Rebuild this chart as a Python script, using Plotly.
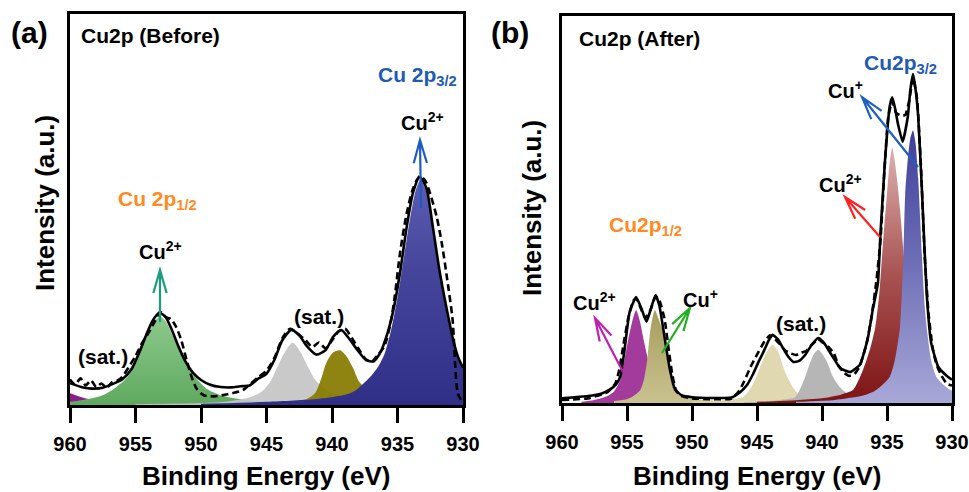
import math
import plotly.graph_objects as go

# ---------------- data ----------------
# Panel (a): Cu2p before. Energies in eV, intensities in a.u. (0-100 frame scale)
a_env_E = [960, 959, 958.3, 957.5, 956.8, 956, 955.3, 954.7, 954.2, 953.7, 953.2, 952.7, 952.2, 951.7,
           951.2, 950.6, 950, 949.3, 948.5, 947.7, 947, 946.3, 945.6, 945, 944.4, 943.8, 943.1, 942.5,
           941.9, 941.2, 940.5, 939.9, 939.3, 938.7, 938, 937.4, 936.8, 936.3, 935.8, 935.3, 934.8,
           934.3, 933.8, 933.3, 932.8, 932.3, 931.8, 931.3, 930.8, 930.4, 930]
a_env_I = [5.6, 4.5, 4.2, 4.4, 5.3, 6.6, 9.2, 13.5, 17.8, 21.5, 23.6, 22.5, 19.0, 14.8,
           11.2, 8.2, 6.4, 5.2, 4.6, 4.5, 4.8, 5.0, 6.8, 8.0, 11.5, 16.5, 19.2, 17.8,
           15.0, 12.9, 14.0, 17.5, 19.2, 17.0, 13.8, 11.5, 11.2, 13.5, 18.0, 24.5, 34.0,
           45.5, 54.5, 58.3, 55.5, 45.5, 34.5, 25.5, 17.4, 12.5, 9.5]

a_raw_E = [960, 959.6, 959.2, 958.8, 958.4, 958, 957.6, 957.2, 956.8, 956.4, 956, 955.5, 955, 954.5,
           954, 953.5, 953.1, 952.7, 952.3, 951.9, 951.5, 951.1, 950.7, 950.3, 949.8, 949, 948.2,
           947.4, 946.8, 946.2, 945.6, 945, 944.4, 943.8, 943.2, 942.6, 942, 941.5, 941, 940.5, 940,
           939.5, 939, 938.5, 938, 937.5, 937, 936.5, 936, 935.5, 935.2, 934.8, 934.3, 933.8, 933.3,
           932.9, 932.5, 932, 931.6, 931.2, 930.8, 930.4, 930.1]
a_raw_I = [6.5, 5.2, 6.8, 5.0, 6.3, 4.6, 5.5, 4.4, 5.8, 6.2, 7.2, 9.8, 12.5, 15.8,
           18.5, 21.5, 23.8, 22.5, 22.0, 20.0, 16.5, 11.5, 7.0, 4.0, 2.5, 2.2, 2.6,
           3.2, 3.8, 5.5, 7.2, 8.8, 12.0, 17.0, 19.5, 18.2, 16.5, 14.8, 16.0, 14.5, 16.5,
           18.8, 19.5, 17.2, 14.5, 12.0, 11.0, 12.8, 15.0, 21.5, 28.0, 39.0, 49.0, 55.5, 58.5,
           57.5, 54.0, 48.0, 41.0, 32.0, 22.0, 3.0, 1.0]

a_purple_E = [960, 959.3, 958.5, 957.5, 956.5, 955.5, 953, 950, 945, 940, 930]
a_purple_I = [3.0, 2.2, 1.5, 1.0, 0.7, 0.5, 0.35, 0.25, 0.15, 0.1, 0.05]

a_green_E = [960, 958.5, 957.5, 956.5, 955.6, 955, 954.5, 954, 953.5, 953.1, 952.7, 952.2, 951.6,
             951, 950.4, 949.5, 948.5, 947, 945, 940, 935, 930]
a_green_I = [0.8, 1.6, 2.5, 4.5, 7.2, 11.5, 16.0, 19.5, 21.8, 22.6, 21.5, 18.0, 13.5,
             10.0, 7.0, 4.0, 2.5, 1.5, 0.8, 0.35, 0.2, 0.1]

a_gray_E = [955, 950, 948, 947, 946, 945.3, 944.7, 944.2, 943.6, 943.0, 942.4, 941.8, 941.3, 940.5,
            939.5, 938, 936, 933, 930]
a_gray_I = [0.2, 0.5, 0.9, 1.4, 2.3, 3.6, 6.0, 9.5, 13.5, 15.9, 13.5, 9.5, 6.5, 4.0,
            2.5, 1.4, 0.7, 0.3, 0.2]

a_olive_E = [948, 945, 943, 942, 941.3, 940.9, 940.4, 939.9, 939.4, 938.9, 938.4, 937.9, 937.2,
             936.5, 935.5, 934, 932, 930]
a_olive_I = [0.2, 0.4, 0.8, 1.4, 3.0, 6.0, 11.0, 13.5, 14.0, 12.5, 9.5, 5.8, 4.0,
             2.8, 1.8, 1.0, 0.6, 0.4]

a_blue_E = [950, 945, 941, 939, 938.3, 937.6, 937, 936.5, 936, 935.5, 935, 934.5, 934, 933.6,
            933.25, 932.9, 932.5, 932, 931.5, 931, 930.5, 930]
a_blue_I = [0.3, 0.8, 1.6, 2.6, 3.5, 5.5, 7.5, 9.7, 13.0, 19.0, 27.5, 38.0, 48.5, 55.0,
            57.5, 55.5, 49.5, 39.5, 28.0, 19.5, 13.5, 9.5]

# Panel (b): Cu2p after
b_env_E = [960, 958, 957, 956.3, 955.8, 955.5, 955.2, 954.8, 954.3, 953.9, 953.5, 953.15, 952.8,
           952.5, 952.2, 951.7, 951.3, 950.8, 950, 948.5, 947, 946.3, 945.8, 945.3, 944.9, 944.5,
           944.1, 943.8, 943.4, 943, 942.6, 942.2, 941.8, 941.3, 940.8, 940.3, 939.9, 939.5, 939,
           938.6, 937.85, 937.1, 936.5, 936.1, 935.7, 935.5, 935.15, 934.8, 934.6, 934.4, 934.15,
           933.8, 933.4, 933.2, 933.0, 932.8, 932.6, 932.3, 931.95, 931.6, 931.05, 930.3, 930]
b_env_I = [1.2, 1.8, 2.4, 3.5, 5.0, 7.0, 13.5, 23.5, 27.4, 24.5, 21.0, 24.5, 27.9,
           25.0, 18.9, 8.5, 3.5, 2.0, 1.5, 1.3, 1.4, 2.8, 4.5, 7.5, 10.5, 13.2,
           16.2, 17.6, 16.5, 14.2, 12.0, 10.6, 10.8, 12.4, 15.0, 16.8, 15.8, 13.7, 11.0,
           9.0, 8.0, 9.8, 16.3, 24.0, 31.0, 44.0, 62.8, 76.5, 79.0, 76.5, 72.0,
           67.5, 74.0, 81.0, 85.0, 81.0, 74.0, 54.0, 28.4, 15.5, 9.3, 6.7, 6.0]

b_raw_E = [960, 958, 956.5, 955.9, 955.6, 955.3, 954.9, 954.5, 954.3, 954.0, 953.6, 953.2, 952.8,
           952.5, 952.1, 951.8, 951.5, 951.2, 950.8, 950, 948.5, 947, 946.4, 946, 945.5, 945,
           944.5, 944, 943.6, 943.2, 942.8, 942.4, 942, 941.6, 941.2, 940.8, 940.3, 939.9, 939.5,
           939.1, 938.7, 938.3, 937.9, 937.5, 937.1, 936.6, 936.2, 935.8, 935.5, 935.2, 934.9,
           934.6, 934.3, 934.0, 933.6, 933.3, 933.0, 932.7, 932.4, 932.1, 931.8, 931.5, 931.2,
           930.8, 930.4, 930]
b_raw_I = [0.8, 1.2, 2.8, 5.0, 8.5, 14.5, 22.0, 26.5, 27.0, 25.0, 22.0, 24.0, 27.5,
           26.5, 21.5, 14.0, 7.0, 3.0, 1.8, 1.2, 1.0, 1.1, 3.0, 5.5, 9.3, 12.5,
           15.5, 17.5, 16.5, 15.0, 13.5, 12.8, 12.4, 13.0, 13.5, 15.0, 16.5, 15.5, 14.5,
           12.9, 9.5, 7.8, 7.0, 7.5, 9.5, 15.0, 22.0, 32.0, 42.0, 60.0, 74.0,
           78.0, 75.0, 74.4, 74.4, 78.0, 84.0, 79.0, 62.0, 38.0, 23.0, 14.5, 10.0,
           7.0, 5.0, 4.5]

b_purple_E = [958.5, 957.6, 957, 956.5, 956, 955.5, 955.15, 954.9, 954.6, 954.3, 954.0, 953.7, 953.4,
              953.0, 952.5, 952, 951, 950, 948, 945, 940]
b_purple_I = [0.3, 0.7, 1.2, 1.8, 3.0, 6.0, 12.0, 16.5, 21.0, 24.0, 21.0, 16.0, 11.5,
              7.0, 4.5, 3.0, 1.5, 0.9, 0.4, 0.2, 0.1]

b_olive_E = [956, 955, 954.5, 954, 953.7, 953.45, 953.2, 953.0, 952.85, 952.6, 952.2, 951.7, 951.15,
             950.5, 949.5, 948, 945, 940]
b_olive_I = [0.5, 1.0, 1.8, 3.2, 6.0, 11.0, 19.0, 22.5, 24.0, 22.0, 18.0, 6.7, 2.6,
             1.5, 0.9, 0.5, 0.25, 0.1]

b_khaki_E = [950, 948, 947, 946.1, 945.6, 945.15, 944.7, 944.2, 943.8, 943.4, 942.9, 942.4, 941.7,
             941, 940, 938.5, 936, 933, 930]
b_khaki_I = [0.3, 0.6, 1.0, 1.5, 3.2, 6.0, 9.8, 13.5, 15.0, 13.5, 8.5, 5.0, 1.8,
             1.3, 0.9, 0.5, 0.3, 0.2, 0.1]

b_gray_E = [946, 944, 943, 942.1, 941.7, 941.3, 940.9, 940.6, 940.3, 940.0, 939.6, 939.15, 938.6,
            938.1, 937, 935, 932, 930]
b_gray_I = [0.2, 0.5, 0.9, 1.5, 3.5, 6.7, 10.5, 12.8, 13.7, 12.8, 10.5, 6.7, 4.0,
            2.6, 1.4, 0.7, 0.4, 0.3]

b_red_E = [945, 942, 940, 938.5, 937.6, 936.85, 936.3, 935.9, 935.6, 935.4, 935.2, 935.0, 934.8,
           934.6, 934.4, 934.2, 934.0, 933.7, 933.4, 933.0, 932.5, 932, 931.5, 931, 930.5, 930]
b_red_I = [0.3, 0.7, 1.2, 2.2, 3.4, 8.5, 14.0, 19.6, 28.0, 37.0, 46.0, 54.0, 62.0,
           66.0, 62.5, 57.0, 50.0, 38.0, 26.0, 15.0, 8.5, 5.0, 3.5, 2.6, 2.0, 1.5]

b_blue_E = [942, 939, 937, 936, 935.4, 934.8, 934.4, 934.0, 933.75, 933.6, 933.4, 933.2, 933.0,
            932.8, 932.6, 932.3, 932.1, 931.95, 931.6, 931.2, 930.6, 930.15, 930]
b_blue_I = [0.3, 0.8, 1.8, 3.0, 4.5, 6.7, 11.0, 19.6, 37.0, 54.0, 63.0, 68.5, 70.5,
            67.0, 58.0, 37.0, 25.0, 19.6, 11.0, 6.7, 4.5, 3.4, 3.2]

tick_vals = [960, 955, 950, 945, 940, 935, 930]
tick_text = ["960", "955", "950", "945", "940", "935", "930"]

# ---------------- figure ----------------
W, H = 969, 492
FONT = "Liberation Sans, Arial, sans-serif"


def px(x):
    return x / W


def py(y):
    return 1 - y / H


fig = go.Figure()


def comp(E, I, xa, ya, color=None, grad=None, opacity=1.0, smoothing=0.8):
    kw = dict(x=E, y=I, xaxis=xa, yaxis=ya, mode="lines", fill="tozeroy",
              line=dict(width=0, shape="spline", smoothing=smoothing, color="rgba(0,0,0,0)"),
              hoverinfo="skip", showlegend=False, opacity=opacity)
    if grad:
        kw["fillgradient"] = dict(type="vertical", colorscale=grad)
    else:
        kw["fillcolor"] = color
    fig.add_trace(go.Scatter(**kw))


def line(E, I, xa, ya, dash="solid", smoothing=0.7):
    fig.add_trace(go.Scatter(x=E, y=I, xaxis=xa, yaxis=ya, mode="lines",
                             line=dict(color="black", width=2.6, dash=dash,
                                       shape="spline", smoothing=smoothing),
                             hoverinfo="skip", showlegend=False))


# panel a components
comp(a_purple_E, a_purple_I, "x", "y", "#8B1E8B")
comp(a_green_E, a_green_I, "x", "y", grad=[[0, "#5FA95F"], [1, "#8DC98D"]], opacity=0.95)
comp(a_gray_E, a_gray_I, "x", "y", "rgba(196,196,196,0.92)")
comp(a_olive_E, a_olive_I, "x", "y", "rgba(135,122,0,0.93)")
comp(a_blue_E, a_blue_I, "x", "y", grad=[[0, "#2F2F88"], [0.6, "#45459C"], [1, "#5C5CB2"]])
line(a_env_E, a_env_I, "x", "y")
line(a_raw_E, a_raw_I, "x", "y", dash="7px,4px")

# panel b components
comp(b_purple_E, b_purple_I, "x2", "y2", "rgba(158,48,152,0.95)", smoothing=0.6)
comp(b_olive_E, b_olive_I, "x2", "y2", grad=[[0, "#C9C290"], [1, "#A69E5C"]], opacity=0.92, smoothing=0.6)
comp(b_khaki_E, b_khaki_I, "x2", "y2", "rgba(222,214,172,0.95)")
comp(b_gray_E, b_gray_I, "x2", "y2", "rgba(178,178,178,0.95)")
comp(b_red_E, b_red_I, "x2", "y2", grad=[[0, "#7E1414"], [0.5, "#A85252"], [1, "#DDB0B0"]], smoothing=0.6)
comp(b_blue_E, b_blue_I, "x2", "y2", grad=[[0, "#A8A8D8"], [0.5, "#7070B8"], [1, "#3E3E9A"]], smoothing=0.6)
line(b_env_E, b_env_I, "x2", "y2", smoothing=0.45)
line(b_raw_E, b_raw_I, "x2", "y2", dash="7px,4px", smoothing=0.45)

axis_common = dict(showline=True, linecolor="black", linewidth=3, mirror=True,
                   showgrid=False, zeroline=False, automargin=False)
xcommon = dict(axis_common, range=[960, 930], tickvals=tick_vals, ticktext=tick_text,
               ticks="outside", ticklen=15, tickwidth=3, tickcolor="black",
               ticklabelstandoff=4,
               tickfont=dict(family=FONT, size=20, color="black", weight="bold"))
ycommon = dict(axis_common, range=[0, 100], showticklabels=False, ticks="")

fig.update_layout(
    width=W, height=H, margin=dict(l=0, r=0, t=0, b=0, pad=0, autoexpand=False),
    paper_bgcolor="white", plot_bgcolor="white", showlegend=False,
    xaxis=dict(xcommon, domain=[px(70), px(463)], anchor="y"),
    yaxis=dict(ycommon, domain=[py(405), py(14)], anchor="x"),
    xaxis2=dict(xcommon, domain=[px(562), px(952)], anchor="y2"),
    yaxis2=dict(ycommon, domain=[py(403), py(16)], anchor="x2"),
)

ann = []


def text(s, x, y, size=20, color="black", xanchor="left", angle=0):
    ann.append(dict(text=s, x=px(x), y=py(y), xref="paper", yref="paper",
                    xanchor=xanchor, yanchor="middle", showarrow=False, textangle=angle,
                    font=dict(family=FONT, size=size, color=color, weight="bold")))


BLUE_T = "#1F5BB5"
ORANGE_T = "#FF8A1F"

# panel a texts
text("(a)", 29, 32, size=30, xanchor="center")
text("Cu2p (Before)", 79, 36, size=21)
text("Cu 2p<sub>3/2</sub>", 376, 76, size=21, color=BLUE_T)
text("Cu<sup>2+</sup>", 399, 122, size=20)
text("Cu 2p<sub>1/2</sub>", 116, 200, size=21, color=ORANGE_T)
text("Cu<sup>2+</sup>", 137, 250, size=20)
text("(sat.)", 76, 356, size=21)
text("(sat.)", 292, 316, size=21)
text("Intensity (a.u.)", 45, 203, size=26, xanchor="center", angle=-90)
text("Binding Energy (eV)", 266, 476, size=26, xanchor="center")

# panel b texts
text("(b)", 510, 32, size=30, xanchor="center")
text("Cu2p (After)", 577, 38, size=21)
text("Cu2p<sub>3/2</sub>", 862, 64, size=21, color=BLUE_T)
text("Cu<sup>+</sup>", 826, 89, size=20)
text("Cu<sup>2+</sup>", 817, 183, size=20)
text("Cu2p<sub>1/2</sub>", 607, 226, size=21, color=ORANGE_T)
text("Cu<sup>2+</sup>", 571, 301, size=20)
text("Cu<sup>+</sup>", 681, 298, size=20)
text("(sat.)", 774, 323, size=21)
text("Intensity (a.u.)", 532, 208, size=26, xanchor="center", angle=-90)
text("Binding Energy (eV)", 757, 476, size=26, xanchor="center")

fig.update_layout(annotations=ann)

# arrows (annotation graphics): shaft + open V head
shapes = []


def arrow(tail, tip, color, wing=24, half_angle=16, width=2.2):
    tx, ty = tip
    sx, sy = tail
    ang = math.atan2(sy - ty, sx - tx)
    pts = []
    for s in (+1, -1):
        a = ang + s * math.radians(half_angle)
        pts.append((tx + wing * math.cos(a), ty + wing * math.sin(a)))
    path = (f"M {px(sx)} {py(sy)} L {px(tx)} {py(ty)} "
            f"M {px(pts[0][0])} {py(pts[0][1])} L {px(tx)} {py(ty)} L {px(pts[1][0])} {py(pts[1][1])}")
    shapes.append(dict(type="path", path=path, xref="paper", yref="paper",
                       line=dict(color=color, width=width)))


arrow((421, 208), (420, 140), "#1F5BC0")
arrow((160, 322), (160, 270), "#1A9E7A")
arrow((918, 167), (862, 97), "#2060C0")
arrow((880, 237), (845, 197), "#FF2020")
arrow((623, 372), (595, 318), "#C020B0")
arrow((662, 353), (690, 308), "#22B022")

fig.update_layout(shapes=shapes)

# place the figure flush with the window (no default page margin), no toolbar
fig.write_html("out.html",
               config={"displayModeBar": False, "staticPlot": True},
               post_script="document.body.style.margin='0';document.body.style.overflow='hidden';")
